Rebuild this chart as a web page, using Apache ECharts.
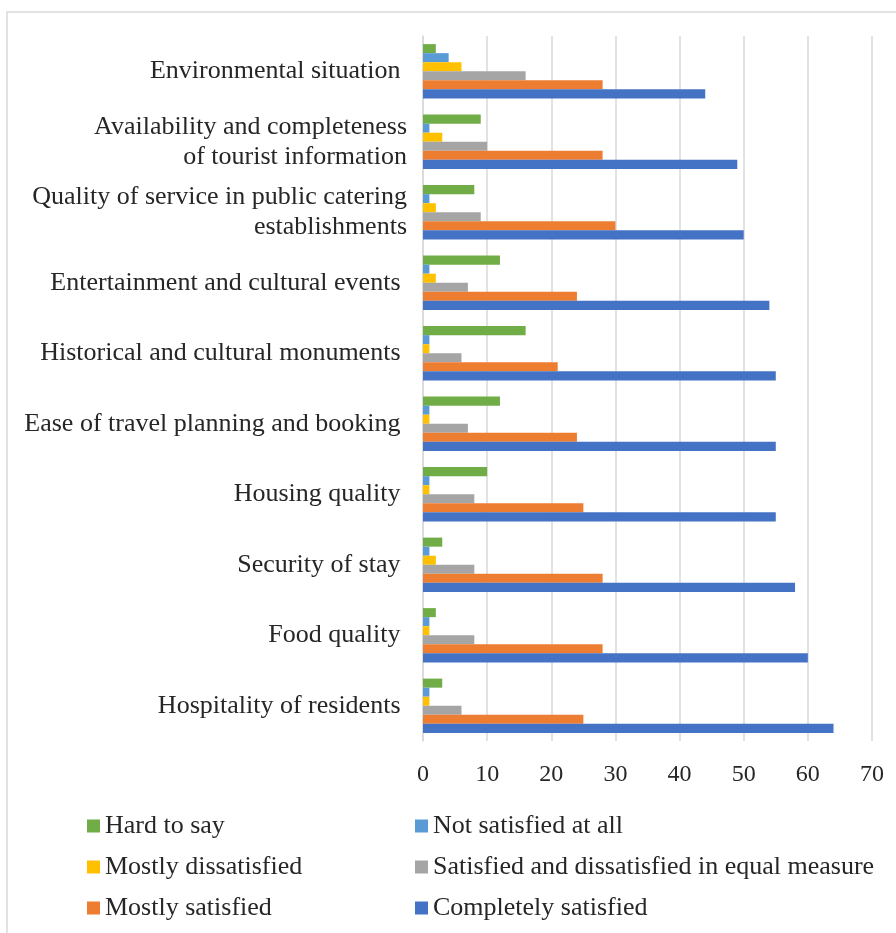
<!DOCTYPE html>
<html>
<head>
<meta charset="utf-8">
<script src="https://cdn.jsdelivr.net/npm/echarts@6/dist/echarts.min.js"></script>
<style>html,body{margin:0;padding:0;background:#fff;}#c{width:896px;height:933px;}</style>
</head>
<body>
<div id="c"></div>
<script>
const categories = [
  "Environmental situation ",
  "Availability and completeness\nof tourist information",
  "Quality of service in public catering\nestablishments",
  "Entertainment and cultural events ",
  "Historical and cultural monuments ",
  "Ease of travel planning and booking ",
  "Housing quality ",
  "Security of stay ",
  "Food quality ",
  "Hospitality of residents "
];
const seriesNames = [
  "Hard to say",
  "Not satisfied at all",
  "Mostly dissatisfied",
  "Satisfied and dissatisfied in equal measure",
  "Mostly satisfied",
  "Completely satisfied"
];
const hardToSay          = [2, 9, 8, 12, 16, 12, 10, 3, 2, 3];
const notSatisfiedAtAll  = [4, 1, 1, 1, 1, 1, 1, 1, 1, 1];
const mostlyDissatisfied = [6, 3, 2, 2, 1, 1, 1, 2, 1, 1];
const equalMeasure       = [16, 10, 9, 7, 6, 7, 8, 8, 8, 6];
const mostlySatisfied    = [28, 28, 30, 24, 21, 24, 25, 28, 28, 25];
const completelySatisfied= [44, 49, 50, 54, 55, 55, 55, 58, 60, 64];
const xTicks = [0, 10, 20, 30, 40, 50, 60, 70];

const values = [hardToSay, notSatisfiedAtAll, mostlyDissatisfied, equalMeasure, mostlySatisfied, completelySatisfied];
const colors = ["#70AD47", "#5B9BD5", "#FFC000", "#A5A5A5", "#ED7D31", "#4472C4"];

const font = "Liberation Serif";
const textColor = "#262626";

const chart = echarts.init(document.getElementById('c'), null, {renderer: 'canvas'});
const legendCommon = {
  orient: 'vertical',
  top: 808,
  itemWidth: 13,
  itemHeight: 13,
  itemGap: 15,
  icon: 'rect',
  textStyle: {fontFamily: font, fontSize: 26, color: textColor, lineHeight: 26}
};
chart.setOption({
  backgroundColor: '#fff',
  animation: false,
  color: colors,
  graphic: [{
    type: 'rect',
    shape: {x: 7, y: 12, width: 1000, height: 1000},
    style: {fill: 'none', stroke: '#d9d9d9', lineWidth: 1.5},
    silent: true
  }],
  legend: [
    Object.assign({}, legendCommon, {left: 82, data: [seriesNames[0], seriesNames[2], seriesNames[4]]}),
    Object.assign({}, legendCommon, {left: 410, data: [seriesNames[1], seriesNames[3], seriesNames[5]]})
  ],
  grid: {left: 423, right: 24, top: 36, bottom: 192, containLabel: false},
  xAxis: {
    type: 'value',
    min: xTicks[0],
    max: xTicks[xTicks.length - 1],
    interval: 10,
    axisLine: {show: false},
    axisTick: {show: false},
    splitLine: {show: true, lineStyle: {color: '#d9d9d9', width: 1.5}},
    axisLabel: {fontFamily: font, fontSize: 24, color: textColor, margin: 22}
  },
  yAxis: {
    type: 'category',
    inverse: true,
    data: categories,
    axisLine: {show: true, lineStyle: {color: '#d9d9d9', width: 1.5}},
    axisTick: {show: false},
    axisLabel: {fontFamily: font, fontSize: 26, color: textColor, margin: 16, lineHeight: 30, align: 'right'}
  },
  series: seriesNames.map((n, i) => ({
    name: n,
    type: 'bar',
    data: values[i],
    barGap: '0%',
    barCategoryGap: '23%',
    itemStyle: {color: colors[i]}
  }))
});
</script>
</body>
</html>
